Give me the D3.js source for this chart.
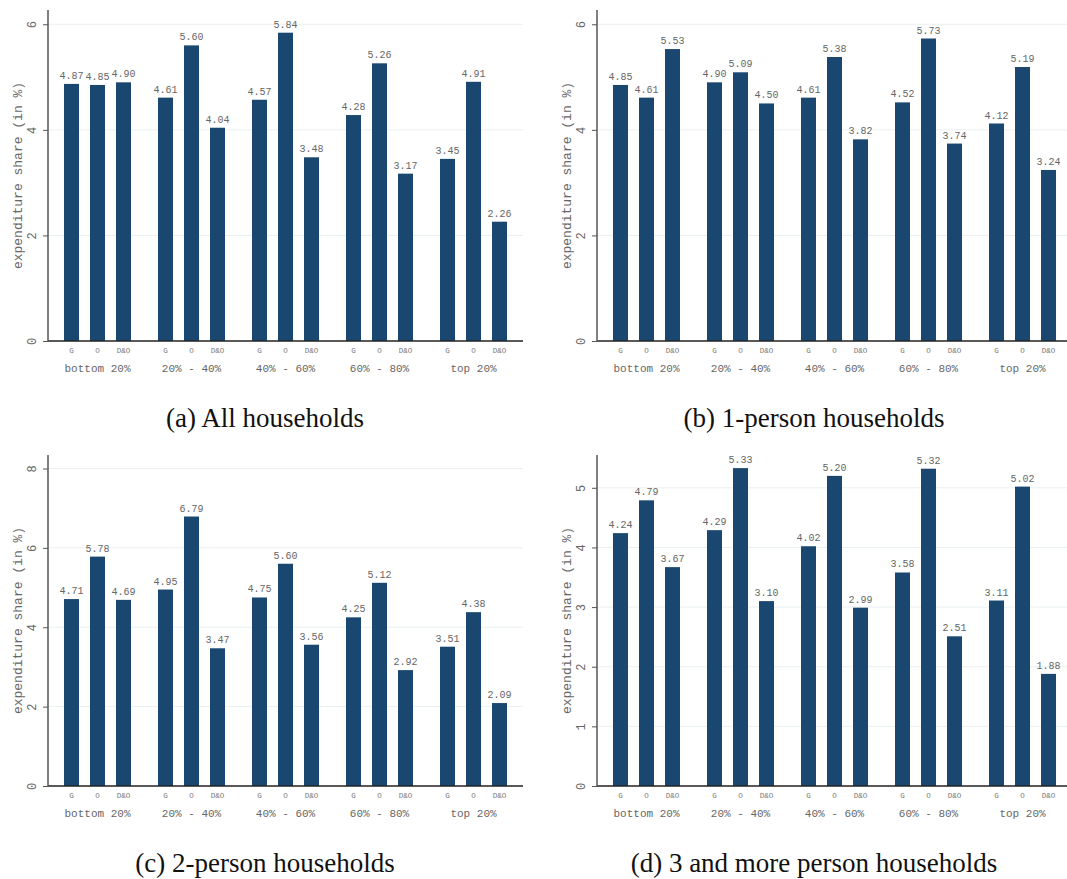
<!DOCTYPE html>
<html>
<head>
<meta charset="utf-8">
<script src="https://cdn.jsdelivr.net/npm/d3@7"></script>
<style>
  body { margin: 0; background: #fff; }
  svg { display: block; }
</style>
</head>
<body>
<div id="chart"></div>
<script>
// quintile groups and the three expenditure types
const groups = ["bottom 20%", "20% - 40%", "40% - 60%", "60% - 80%", "top 20%"];
const types = ["G", "O", "D&O"];

// values per group: [G, O, D&O]
const allHouseholds = [[4.87, 4.85, 4.90], [4.61, 5.60, 4.04], [4.57, 5.84, 3.48], [4.28, 5.26, 3.17], [3.45, 4.91, 2.26]];
const onePerson     = [[4.85, 4.61, 5.53], [4.90, 5.09, 4.50], [4.61, 5.38, 3.82], [4.52, 5.73, 3.74], [4.12, 5.19, 3.24]];
const twoPerson     = [[4.71, 5.78, 4.69], [4.95, 6.79, 3.47], [4.75, 5.60, 3.56], [4.25, 5.12, 2.92], [3.51, 4.38, 2.09]];
const threePlus     = [[4.24, 4.79, 3.67], [4.29, 5.33, 3.10], [4.02, 5.20, 2.99], [3.58, 5.32, 2.51], [3.11, 5.02, 1.88]];

const captions = ["(a) All households", "(b) 1-person households", "(c) 2-person households", "(d) 3 and more person households"];
const yTicks = [[0, 2, 4, 6], [0, 2, 4, 6], [0, 2, 4, 6, 8], [0, 1, 2, 3, 4, 5]];
const yMax = [6.27, 6.27, 8.34, 5.55];

const panels = [allHouseholds, onePerson, twoPerson, threePlus];

const width = 1067, height = 879;
const barColor = "#1a476f";
const mono = "'Liberation Mono', 'DejaVu Sans Mono', monospace";

const svg = d3.select("#chart").append("svg")
    .attr("width", width)
    .attr("height", height);

const plotW = 475, plotH = 331;

panels.forEach((data, i) => {
    const ox = (i % 2) * 549 + 48;
    const oy = Math.floor(i / 2) * 445 + 10;

    const g = svg.append("g").attr("transform", `translate(${ox},${oy})`);

    const y = d3.scaleLinear().domain([0, yMax[i]]).range([plotH, 0]);

    const x0 = d3.scaleBand().domain(groups).range([0, plotW])
        .paddingInner(0.287).paddingOuter(0.17);
    const x1 = d3.scaleBand().domain(types).range([0, x0.bandwidth()])
        .paddingInner(0.423).paddingOuter(0);

    // gridlines
    g.selectAll("line.grid")
        .data(yTicks[i].filter(t => t > 0))
        .enter().append("line")
        .attr("class", "grid")
        .attr("x1", 0).attr("x2", plotW)
        .attr("y1", d => y(d)).attr("y2", d => y(d))
        .attr("stroke", "#eaf0f2")
        .attr("stroke-width", 1);

    // bars
    const gg = g.selectAll("g.grp")
        .data(data)
        .enter().append("g")
        .attr("class", "grp")
        .attr("transform", (d, k) => `translate(${x0(groups[k])},0)`);

    gg.selectAll("rect")
        .data(d => d.map((v, j) => ({ type: types[j], v })))
        .enter().append("rect")
        .attr("x", d => x1(d.type))
        .attr("y", d => y(d.v))
        .attr("width", x1.bandwidth())
        .attr("height", d => plotH - y(d.v))
        .attr("fill", barColor);

    gg.selectAll("text.val")
        .data(d => d.map((v, j) => ({ type: types[j], v })))
        .enter().append("text")
        .attr("class", "val")
        .attr("x", d => x1(d.type) + x1.bandwidth() / 2)
        .attr("y", d => y(d.v) - 5)
        .attr("text-anchor", "middle")
        .attr("font-family", mono)
        .attr("font-size", "10px")
        .attr("fill", "#666")
        .text(d => d.v.toFixed(2));

    gg.selectAll("text.type")
        .data(types)
        .enter().append("text")
        .attr("class", "type")
        .attr("x", d => x1(d) + x1.bandwidth() / 2)
        .attr("y", plotH + 12)
        .attr("text-anchor", "middle")
        .attr("font-family", mono)
        .attr("font-size", "7.5px")
        .attr("fill", "#777")
        .text(d => d);

    gg.append("text")
        .attr("x", x0.bandwidth() / 2)
        .attr("y", plotH + 31)
        .attr("text-anchor", "middle")
        .attr("font-family", mono)
        .attr("font-size", "11px")
        .attr("fill", "#666")
        .text((d, k) => groups[k]);

    // x baseline
    g.append("line")
        .attr("x1", 0).attr("x2", plotW)
        .attr("y1", plotH).attr("y2", plotH)
        .attr("stroke", "#222")
        .attr("stroke-width", 1.5);

    // y axis
    const yAxis = d3.axisLeft(y).tickValues(yTicks[i]).tickSize(5).tickFormat(d3.format("d"));
    const ya = g.append("g").call(yAxis);
    ya.select(".domain").attr("stroke", "#555").attr("stroke-width", 1.5)
        .attr("d", `M0,0V${plotH}`);
    ya.selectAll(".tick line").attr("stroke", "#555");
    ya.selectAll(".tick text")
        .attr("font-family", mono)
        .attr("font-size", "12px")
        .attr("fill", "#666")
        .attr("x", null).attr("dy", null)
        .attr("text-anchor", "middle")
        .attr("transform", "translate(-12,0) rotate(-90)");

    g.append("text")
        .attr("transform", `translate(-26,${plotH / 2}) rotate(-90)`)
        .attr("text-anchor", "middle")
        .attr("font-family", mono)
        .attr("font-size", "13px")
        .attr("fill", "#666")
        .text("expenditure share (in %)");

    // caption
    svg.append("text")
        .attr("x", (i % 2) * 549 + 265)
        .attr("y", Math.floor(i / 2) * 445 + 427)
        .attr("text-anchor", "middle")
        .attr("font-family", "'Liberation Serif', serif")
        .attr("font-size", "27px")
        .attr("fill", "#111")
        .text(captions[i]);
});
</script>
</body>
</html>
